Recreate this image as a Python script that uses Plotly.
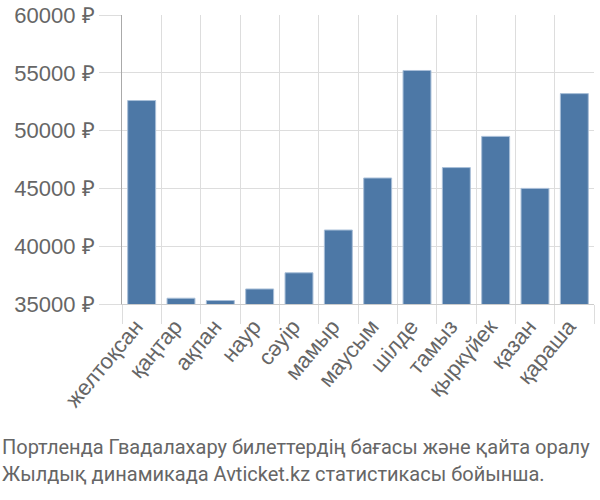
import plotly.graph_objects as go

months = ["желтоқсан", "қаңтар", "ақпан", "наур", "сәуір", "мамыр",
          "маусым", "шілде", "тамыз", "қыркүйек", "қазан", "қараша"]
prices = [52600, 35500, 35300, 36300, 37700, 41400,
          45900, 55200, 46800, 49500, 45000, 53200]
y_ticks = [35000, 40000, 45000, 50000, 55000, 60000]
y_labels = [f"{v} ₽" for v in y_ticks]

caption_lines = ["Портленда Гвадалахару билеттердің бағасы және қайта оралу",
                 "Жылдық динамикада Avticket.kz статистикасы бойынша."]

fig = go.Figure()
fig.add_trace(go.Bar(
	x=months,
	y=prices,
	marker_color="#4d78a6",
	marker_line_color="#a9bfd8",
	marker_line_width=1,
))

fig.update_layout(
	width=600, height=500,
	margin=dict(l=122, r=6, t=15, b=196, autoexpand=False),
	plot_bgcolor="white",
	paper_bgcolor="white",
	bargap=0.29,
	showlegend=False,
	font=dict(family="Liberation Sans, Arial, sans-serif", color="#666666"),
)
fig.update_xaxes(
	tickangle=-50,
	tickfont_size=22,
	ticklabelshift=-6,
	tickson="boundaries",
	ticks="outside",
	ticklen=19,
	tickcolor="#dddddd",
	showgrid=True,
	gridcolor="#dddddd",
	gridwidth=1,
	showline=True,
	linecolor="#cccccc",
)
fig.update_yaxes(
	range=[35000, 60000],
	tickvals=y_ticks,
	ticktext=y_labels,
	tickfont_size=22,
	ticks="outside",
	ticklen=22,
	tickcolor="#dddddd",
	gridcolor="#dddddd",
	showline=True,
	linecolor="#aaaaaa",
	zeroline=False,
)
# caption, two lines under the chart
for i, line in enumerate(caption_lines):
	fig.add_annotation(
		text=line,
		xref="paper", yref="paper",
		x=-122 / 472, y=-(447 + 27 * i - 304) / 289,
		xanchor="left", yanchor="middle",
		showarrow=False,
		font=dict(family="Roboto, sans-serif", size=20, color="#666666"),
	)

fig.write_html("out.html", config={"displayModeBar": False},
	post_script="document.body.style.margin='0';")
